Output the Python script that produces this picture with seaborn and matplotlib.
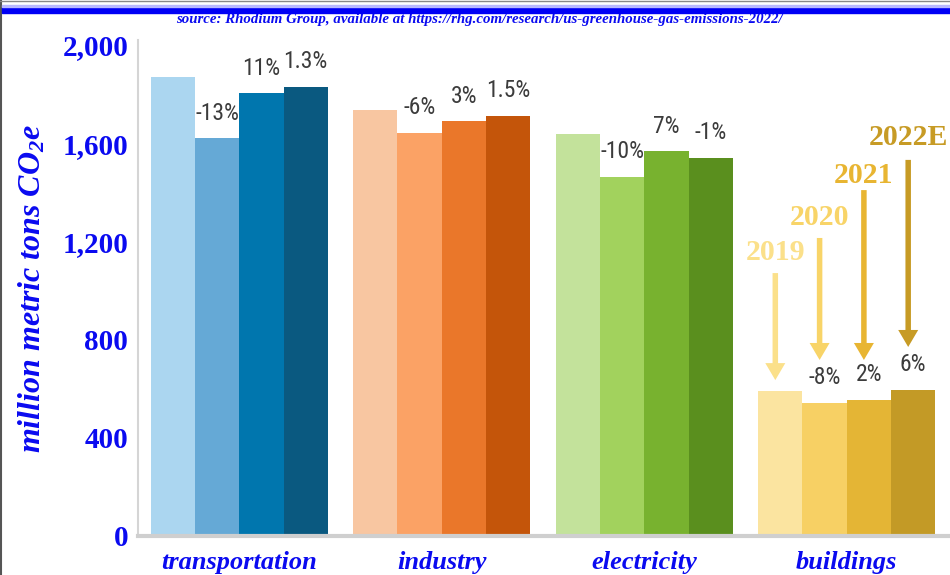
import matplotlib
matplotlib.use("Agg")
import matplotlib.pyplot as plt
import seaborn as sns
import pandas as pd
from matplotlib.patches import Rectangle
from matplotlib.lines import Line2D

# ---------------- data ----------------
categories = ["transportation", "industry", "electricity", "buildings"]
years = ["2019", "2020", "2021", "2022E"]
transportation = [1870, 1621, 1804, 1829]
industry = [1735, 1642, 1690, 1711]
electricity = [1637, 1463, 1568, 1540]
buildings = [591, 542, 554, 595]
pct_labels = [
    ["", "-13%", "11%", "1.3%"],
    ["", "-6%", "3%", "1.5%"],
    ["", "-10%", "7%", "-1%"],
    ["", "-8%", "2%", "6%"],
]
yticks = [0, 400, 800, 1200, 1600, 2000]
ytick_labels = ["0", "400", "800", "1,200", "1,600", "2,000"]
source_text = "source: Rhodium Group, available at https://rhg.com/research/us-greenhouse-gas-emissions-2022/"

# ---------------- styles ----------------
bar_colors = [
    ["#ABD6F0", "#65A9D6", "#0076AE", "#0A5980"],
    ["#F8C6A1", "#FBA265", "#EA772A", "#C4550A"],
    ["#C3E29B", "#A2D25D", "#78B22F", "#5A8F1E"],
    ["#FBE4A0", "#F7D064", "#E4B535", "#C39A26"],
]
year_label_colors = ["#FBE08A", "#F8D468", "#E8B532", "#C79B25"]
BLUE = "#0A0AF0"

# annotation layout for buildings (label y, arrow tail y, arrow tip y) in data units
label_y = [1153, 1299, 1470, 1625]
tail_y = [1071, 1214, 1409, 1532]
tip_y = [635, 717, 717, 770]

values = [transportation, industry, electricity, buildings]
df = pd.DataFrame(
    [(c, y, v) for c, vals in zip(categories, values) for y, v in zip(years, vals)],
    columns=["category", "year", "value"],
)

sns.set_theme(style="white")
plt.rcParams["mathtext.fontset"] = "custom"
plt.rcParams["mathtext.rm"] = "Liberation Serif:bold:italic"
plt.rcParams["mathtext.it"] = "Liberation Serif:bold:italic"
plt.rcParams["mathtext.bf"] = "Liberation Serif:bold:italic"

fig = plt.figure(figsize=(9.5, 5.75), dpi=100)
W, H = 950, 575
ax = fig.add_axes([138 / W, 1 - 536 / H, (948 - 138) / W, (536 - 40) / H])

sns.barplot(data=df, x="category", y="value", hue="year", order=categories,
            hue_order=years, width=0.875, gap=0, ax=ax, legend=False,
            saturation=1, errorbar=None)

for i, cont in enumerate(ax.containers):
    for j, bar in enumerate(cont):
        bar.set_facecolor(bar_colors[j][i])
        bar.set_edgecolor("none")
        bar.set_linewidth(0)

ax.set_xlim(-0.5, 3.5)
ax.set_ylim(0, 2020.4)

# percentage labels
for i, cont in enumerate(ax.containers):
    for j, bar in enumerate(cont):
        txt = pct_labels[j][i]
        if txt:
            ax.annotate(txt, xy=(bar.get_x() + bar.get_width() / 2, bar.get_height()),
                        xytext=(0, 18), textcoords="offset points",
                        ha="center", va="center", fontsize=17, color="#3C3C3C",
                        family=["Roboto Condensed", "Roboto"])

# buildings year labels and arrows
px_per_unit_x = ax.get_window_extent().width / 4.0
px_per_unit_y = ax.get_window_extent().height / 2020.4
for i, cont in enumerate(ax.containers):
    bar = cont[3]
    cx = bar.get_x() + bar.get_width() / 2 - 5 / px_per_unit_x
    ax.text(cx, label_y[i], years[i], ha="center", va="center",
            fontsize=21.5, fontweight="bold", family="Liberation Serif",
            color=year_label_colors[i])
    ax.arrow(cx, tail_y[i], 0, tip_y[i] - tail_y[i],
             width=5.5 / px_per_unit_x, head_width=20 / px_per_unit_x,
             head_length=17 / px_per_unit_y, length_includes_head=True,
             color=year_label_colors[i], lw=0)

# axes styling
ax.set_yticks(yticks)
ax.set_yticklabels(ytick_labels, fontsize=21, fontweight="bold",
                   family="Liberation Serif", color=BLUE)
ax.set_xticks(range(len(categories)))
ax.set_xticklabels(categories, fontsize=19, fontweight="bold", fontstyle="italic",
                   family="Liberation Serif", color=BLUE)
ax.tick_params(axis="y", length=0, pad=7)
ax.tick_params(axis="x", length=0, pad=11)
ax.set_xlabel("")
ax.set_ylabel("")
for s in ["top", "right"]:
    ax.spines[s].set_visible(False)
ax.spines["left"].set_color("#D5D5D5")
ax.spines["left"].set_linewidth(1.5)
ax.spines["bottom"].set_color("#CFCFCF")
ax.spines["bottom"].set_linewidth(3)
ax.grid(False)

fig.text(32 / W, 1 - 288 / H, "million metric tons CO$_{2}$e", rotation=90,
         ha="center", va="center", fontsize=23, fontweight="bold",
         fontstyle="italic", family="Liberation Serif", color=BLUE)

fig.text(479 / W, 1 - 20 / H, source_text, ha="center", va="center",
         fontsize=10.7, fontweight="bold", fontstyle="italic",
         family="Liberation Serif", color=BLUE)

# top blue band and frame lines
fig.patches.append(Rectangle((2 / W, 1 - 12.5 / H), 1, 5.5 / H,
                             transform=fig.transFigure, color="#0000F5", zorder=5))
fig.patches.append(Rectangle((2 / W, 1 - 7 / H), 1, 1.5 / H,
                             transform=fig.transFigure, color="#B8B8FF", zorder=5))
fig.lines.append(Line2D([0.5 / W, 0.5 / W], [0, 1], transform=fig.transFigure,
                        color="#555555", lw=1.5))
fig.lines.append(Line2D([0, 1], [1 - 0.5 / H, 1 - 0.5 / H], transform=fig.transFigure,
                        color="#888888", lw=1))

fig.savefig("out.png", dpi=100)
